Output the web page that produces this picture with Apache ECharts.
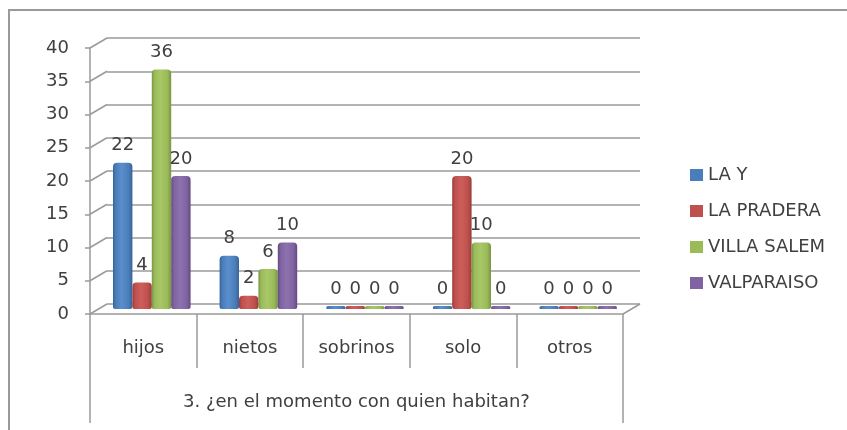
<!DOCTYPE html>
<html>
<head>
<meta charset="utf-8">
<script src="https://cdn.jsdelivr.net/npm/echarts@6/dist/echarts.min.js"></script>
<style>
  html, body { margin: 0; padding: 0; background: #fff; }
  #main { width: 847px; height: 430px; }
</style>
</head>
<body>
<div id="main"></div>
<script>
// datos
var categorias = ['hijos', 'nietos', 'sobrinos', 'solo', 'otros']
var tituloEje = ['3. ¿en el momento con quien habitan?']
var series_nombres = ['LA Y', 'LA PRADERA', 'VILLA SALEM', 'VALPARAISO']
var laY = [22, 8, 0, 0, 0]
var laPradera = [4, 2, 0, 20, 0]
var villaSalem = [36, 6, 0, 10, 0]
var valparaiso = [20, 10, 0, 0, 0]
var yTicks = [0, 5, 10, 15, 20, 25, 30, 35, 40]

// colores (base, oscuro, claro)
var colores = [
    ['#4A7EBB', '#3a6396', '#5b8fcc'],
    ['#C0504D', '#973e3b', '#cc5e5b'],
    ['#9BBB59', '#789443', '#a8c868'],
    ['#8064A2', '#624c80', '#8d72b0']
]
var fuente = 'DejaVu Sans'
var texto = '#404040'
var lineaGris = '#9a9a9a'

// planos 3D: frente, medio (barras), fondo
var frente = { left: 90, right: 224, top: 48, bottom: 116 }
var dx = 17, dy = 10
var fondo = { left: frente.left + dx, right: frente.right - dx, top: frente.top - dy, bottom: frente.bottom + dy }
var medio = { left: frente.left + dx / 2, right: frente.right - dx / 2, top: frente.top - dy / 2, bottom: frente.bottom + dy / 2 }

function gradiente(c) {
    return {
        type: 'linear', x: 0, y: 0, x2: 1, y2: 0,
        colorStops: [
            { offset: 0, color: c[1] },
            { offset: 0.15, color: c[0] },
            { offset: 0.45, color: c[2] },
            { offset: 0.8, color: c[0] },
            { offset: 1, color: c[1] }
        ]
    }
}

function serie(nombre, datos, i) {
    return {
        name: nombre,
        type: 'bar',
        xAxisIndex: 1,
        yAxisIndex: 1,
        barWidth: 19.4,
        barGap: '0%',
        barMinHeight: 3,
        data: datos,
        itemStyle: {
            color: gradiente(colores[i]),
            borderRadius: [4, 4, 2, 2]
        },
        label: {
            show: true,
            position: 'top',
            distance: 8,
            fontFamily: fuente,
            fontSize: 18,
            color: texto
        }
    }
}

var chart = echarts.init(document.getElementById('main'))

var option = {
    animation: false,
    backgroundColor: '#fff',
    legend: {
        orient: 'vertical',
        left: 685,
        top: 160,
        itemWidth: 13,
        itemHeight: 12,
        itemGap: 16,
        icon: 'rect',
        textStyle: { fontFamily: fuente, fontSize: 18, color: texto, lineHeight: 20 },
        data: series_nombres.map(function (n, i) {
            return { name: n, itemStyle: { color: colores[i][0] } }
        })
    },
    grid: [
        { left: fondo.left, right: fondo.right, top: fondo.top, bottom: fondo.bottom },
        { left: medio.left, right: medio.right, top: medio.top, bottom: medio.bottom },
        { left: frente.left, right: frente.right, top: frente.top, bottom: frente.bottom }
    ],
    xAxis: [
        { type: 'category', gridIndex: 0, data: categorias, show: false },
        { type: 'category', gridIndex: 1, data: categorias, show: false },
        {
            type: 'category', gridIndex: 2, data: categorias, position: 'bottom',
            axisLine: { show: true, lineStyle: { color: lineaGris, width: 1.5 } },
            axisTick: { show: true, length: 54, interval: 0, lineStyle: { color: lineaGris, width: 1.5 } },
            axisLabel: { margin: 25, fontFamily: fuente, fontSize: 18, color: texto, interval: 0 }
        },
        {
            type: 'category', gridIndex: 2, data: tituloEje, position: 'bottom',
            axisLine: { show: false },
            axisTick: { show: true, length: 109, lineStyle: { color: lineaGris, width: 1.5 } },
            axisLabel: { margin: 79, fontFamily: fuente, fontSize: 18, color: texto }
        }
    ],
    yAxis: [
        {
            type: 'value', gridIndex: 0, min: 0, max: 40, interval: 5,
            axisLine: { show: false }, axisTick: { show: false }, axisLabel: { show: false },
            splitLine: { show: true, lineStyle: { color: lineaGris, width: 1.5 } }
        },
        {
            type: 'value', gridIndex: 1, min: 0, max: 40, interval: 5,
            show: false, splitLine: { show: false }
        },
        {
            type: 'value', gridIndex: 2, min: 0, max: 40, interval: 5,
            axisLine: { show: true, lineStyle: { color: lineaGris, width: 1.5 } },
            axisTick: { show: true, length: 5, lineStyle: { color: lineaGris, width: 1.5 } },
            axisLabel: { margin: 21, fontFamily: fuente, fontSize: 18, color: texto },
            splitLine: { show: false }
        }
    ],
    series: [
        serie(series_nombres[0], laY, 0),
        serie(series_nombres[1], laPradera, 1),
        serie(series_nombres[2], villaSalem, 2),
        serie(series_nombres[3], valparaiso, 3)
    ]
}
chart.setOption(option)

// lineas diagonales de la pared izquierda y del piso, marco exterior
var graficos = [{
    type: 'rect',
    shape: { x: 9, y: 10, width: 900, height: 500 },
    style: { fill: 'none', stroke: lineaGris, lineWidth: 2 },
    silent: true
}]
yTicks.forEach(function (v) {
    var yF = chart.convertToPixel({ yAxisIndex: 2 }, v)
    var yB = chart.convertToPixel({ yAxisIndex: 0 }, v)
    graficos.push({
        type: 'line',
        shape: { x1: frente.left, y1: yF, x2: fondo.left, y2: yB },
        style: { stroke: lineaGris, lineWidth: 1.5 },
        silent: true
    })
})
var y0F = chart.convertToPixel({ yAxisIndex: 2 }, 0)
var y0B = chart.convertToPixel({ yAxisIndex: 0 }, 0)
graficos.push({
    type: 'line',
    shape: { x1: 847 - frente.right, y1: y0F, x2: 847 - fondo.right, y2: y0B },
    style: { stroke: lineaGris, lineWidth: 1.5 },
    silent: true
})
chart.setOption({ graphic: graficos })
</script>
</body>
</html>
